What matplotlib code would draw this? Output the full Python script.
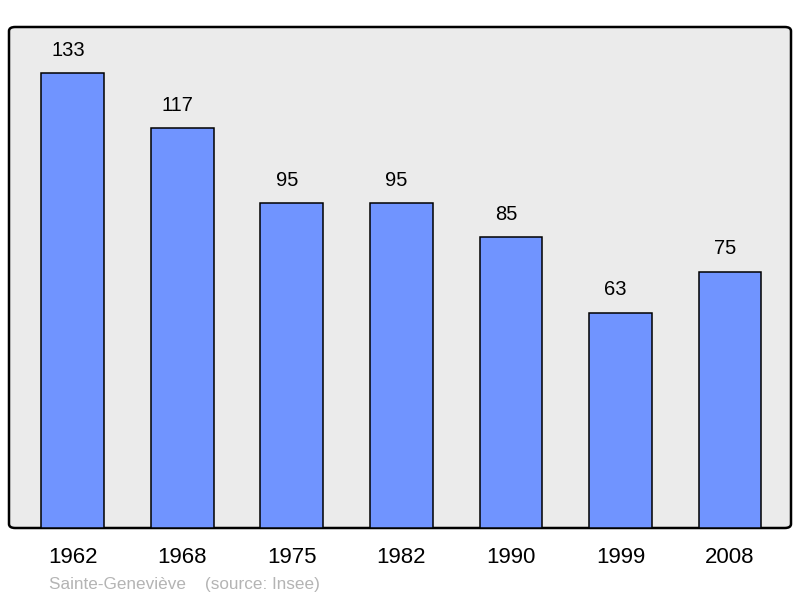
import matplotlib
matplotlib.use("Agg")
import matplotlib.pyplot as plt
from matplotlib.patches import FancyBboxPatch

years = ["1962", "1968", "1975", "1982", "1990", "1999", "2008"]
population = [133, 117, 95, 95, 85, 63, 75]

plt.rcParams['font.family'] = ['Liberation Sans', 'DejaVu Sans']

fig = plt.figure(figsize=(8, 5.98), dpi=100)
ax = fig.add_axes([9/800, 70/598, 782/800, 501/598])
ax.patch.set_visible(False)
for s in ax.spines.values():
    s.set_visible(False)

bg = FancyBboxPatch((0, 0), 1, 1, boxstyle="round,pad=0,rounding_size=0.008",
                    transform=ax.transAxes, facecolor="#ebebeb", edgecolor="black",
                    linewidth=1.8, zorder=0, clip_on=False)
ax.add_patch(bg)

x = list(range(len(years)))
bars = ax.bar(x, population, width=0.575, color="#7094ff", edgecolor="black",
              linewidth=1.1, zorder=2)
for xi, v in zip(x, population):
    ax.annotate(str(v), (xi, v), xytext=(-3.5, 9.5), textcoords="offset points",
                ha="center", va="bottom", fontsize=14.5, color="black")

ax.set_xlim(-0.584, 6.557)
ax.set_ylim(0, 146.5)
ax.set_xticks(x)
ax.set_xticklabels(years, fontsize=16)
ax.tick_params(axis='x', length=0, pad=14)
ax.set_yticks([])

fig.text(49/800, 1 - 584/598, "Sainte-Geneviève    (source: Insee)", fontsize=12.3,
         color="#b4b4b4", ha="left", va="center")

fig.savefig("out.png", dpi=100)
